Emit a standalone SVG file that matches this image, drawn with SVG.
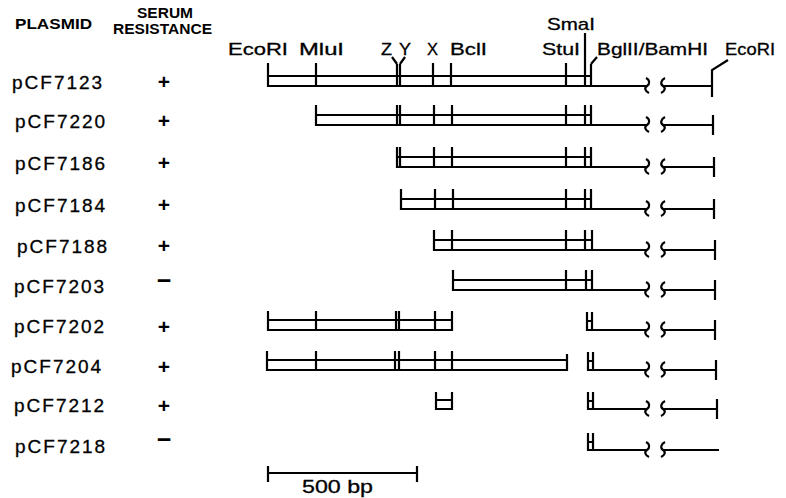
<svg xmlns="http://www.w3.org/2000/svg" xmlns:xlink="http://www.w3.org/1999/xlink" width="786" height="498" viewBox="0 0 786 498">
<style>
.bg{fill:#fff}
.ln{fill:none;stroke:#000;stroke-width:2.2;stroke-linecap:butt;stroke-linejoin:miter}
.hd{font-family:"Liberation Sans",Arial,sans-serif;font-weight:bold;font-size:15px;fill:#000}
.hd2{font-family:"Liberation Sans",Arial,sans-serif;font-weight:bold;font-size:14px;fill:#000}
.site{font-family:"Liberation Sans",Arial,sans-serif;font-size:17px;fill:#000;stroke:#000;stroke-width:0.3}
.name{font-family:"Liberation Sans",Arial,sans-serif;font-size:19px;letter-spacing:2px;fill:#000;stroke:#000;stroke-width:0.3}
.sign{font-family:"Liberation Sans",Arial,sans-serif;font-size:21px;font-weight:bold;fill:#000;text-anchor:middle}
.minus{font-family:"Liberation Sans",Arial,sans-serif;font-size:25px;font-weight:bold;fill:#000;text-anchor:middle}
.scale{font-family:"Liberation Sans",Arial,sans-serif;font-size:18px;fill:#000;stroke:#000;stroke-width:0.3}
</style>
<defs>
<path id="brk" class="ln" d="M646,-8C650,-6 650,-2 647,0C644,2 645,5 649,7 M665,-8C661,-6 660,-2 663,0C666,2 665,5 661,7"/>
</defs>
<rect class="bg" x="0" y="0" width="786" height="498"/>

<g id="header">
<text class="hd" x="15" y="29" textLength="77" lengthAdjust="spacingAndGlyphs">PLASMID</text>
<text class="hd2" x="137" y="18" textLength="56" lengthAdjust="spacingAndGlyphs">SERUM</text>
<text class="hd2" x="113" y="34" textLength="99" lengthAdjust="spacingAndGlyphs">RESISTANCE</text>
</g>

<g id="site-labels">
<text class="site" x="228" y="55" textLength="60" lengthAdjust="spacingAndGlyphs">EcoRI</text>
<text class="site" x="299" y="55" textLength="45" lengthAdjust="spacingAndGlyphs">MluI</text>
<text class="site" x="381" y="55" textLength="11" lengthAdjust="spacingAndGlyphs">Z</text>
<text class="site" x="399" y="55" textLength="12" lengthAdjust="spacingAndGlyphs">Y</text>
<text class="site" x="427" y="55" textLength="11" lengthAdjust="spacingAndGlyphs">X</text>
<text class="site" x="450" y="55" textLength="37" lengthAdjust="spacingAndGlyphs">BclI</text>
<text class="site" x="542" y="55" textLength="38" lengthAdjust="spacingAndGlyphs">StuI</text>
<text class="site" x="547" y="30" textLength="48" lengthAdjust="spacingAndGlyphs">SmaI</text>
<text class="site" x="597" y="55" textLength="111" lengthAdjust="spacingAndGlyphs">BglII/BamHI</text>
<text class="site" x="725" y="55" textLength="50" lengthAdjust="spacingAndGlyphs">EcoRI</text>
</g>

<g id="connectors">
<path class="ln" d="M392,57L397,64 M405,57L400,64 M585,33V64 M591,64L597,57 M712,76V70L728,60"/>
</g>

<g id="row-pCF7123">
<text class="name" x="12" y="89">pCF7123</text>
<text class="sign" x="164" y="89">+</text>
<path class="ln" d="M268,63V86H647 M268,76H591 M316,63V86 M397,64V86 M400,64V86 M433,63V86 M451,63V86 M566,63V86 M585,64V86 M591,64V86 M663,86H712 M712,76V97"/>
<use xlink:href="#brk" y="86"/>
</g>

<g id="row-pCF7220">
<text class="name" x="15" y="128">pCF7220</text>
<text class="sign" x="164" y="128">+</text>
<path class="ln" d="M316,105V125H647 M316,115H591 M397,105V125 M400,105V125 M434,105V125 M452,105V125 M566,105V125 M585,105V125 M591,105V125 M663,125H713 M713,115V135"/>
<use xlink:href="#brk" y="125"/>
</g>

<g id="row-pCF7186">
<text class="name" x="15" y="170">pCF7186</text>
<text class="sign" x="164" y="170">+</text>
<path class="ln" d="M397,147V167H647 M397,157H591 M400,147V167 M434,147V167 M452,147V167 M566,147V167 M585,147V167 M591,147V167 M663,167H714 M714,157V177"/>
<use xlink:href="#brk" y="167"/>
</g>

<g id="row-pCF7184">
<text class="name" x="15" y="212">pCF7184</text>
<text class="sign" x="164" y="212">+</text>
<path class="ln" d="M401,189V209H647 M401,199H591 M435,189V209 M453,189V209 M566,189V209 M585,189V209 M591,189V209 M663,209H714 M714,199V219"/>
<use xlink:href="#brk" y="209"/>
</g>

<g id="row-pCF7188">
<text class="name" x="17" y="253">pCF7188</text>
<text class="sign" x="164" y="253">+</text>
<path class="ln" d="M434,230V250H647 M434,240H592 M452,230V250 M566,230V250 M585,230V250 M592,230V250 M663,250H715 M715,240V260"/>
<use xlink:href="#brk" y="250"/>
</g>

<g id="row-pCF7203">
<text class="name" x="14" y="293">pCF7203</text>
<text class="minus" x="164" y="289">−</text>
<path class="ln" d="M453,270V290H647 M453,280H592 M566,270V290 M586,270V290 M592,270V290 M663,290H715 M715,280V300"/>
<use xlink:href="#brk" y="290"/>
</g>

<g id="row-pCF7202">
<text class="name" x="14" y="333">pCF7202</text>
<text class="sign" x="164" y="334">+</text>
<path class="ln" d="M268,311V330H452V311 M268,320H452 M316,311V330 M396,311V330 M399,311V330 M435,311V330 M587,312V330H647 M587,321H592 M592,312V330 M663,330H715 M715,320V340"/>
<use xlink:href="#brk" y="330"/>
</g>

<g id="row-pCF7204">
<text class="name" x="11" y="373">pCF7204</text>
<text class="sign" x="164" y="374">+</text>
<path class="ln" d="M267,351V370H567V354 M267,360H567 M316,351V370 M395,351V370 M399,351V370 M435,351V370 M452,351V370 M588,352V370H647 M588,361H593 M593,352V370 M663,370H716 M716,360V380"/>
<use xlink:href="#brk" y="370"/>
</g>

<g id="row-pCF7212">
<text class="name" x="14" y="412">pCF7212</text>
<text class="sign" x="164" y="413">+</text>
<path class="ln" d="M436,392V409H452V392 M436,400H452 M588,392V409H647 M588,401H593 M593,392V409 M663,409H717 M717,399V419"/>
<use xlink:href="#brk" y="409"/>
</g>

<g id="row-pCF7218">
<text class="name" x="15" y="453">pCF7218</text>
<text class="minus" x="164" y="448">−</text>
<path class="ln" d="M588,433V450H647 M588,442H593 M593,433V450 M663,450H719"/>
<use xlink:href="#brk" y="450"/>
</g>

<g id="scale-bar">
<path class="ln" d="M268,466V482 M268,473H417 M417,466V482"/>
<text class="scale" x="302" y="493" textLength="71" lengthAdjust="spacingAndGlyphs">500 bp</text>
</g>
</svg>
